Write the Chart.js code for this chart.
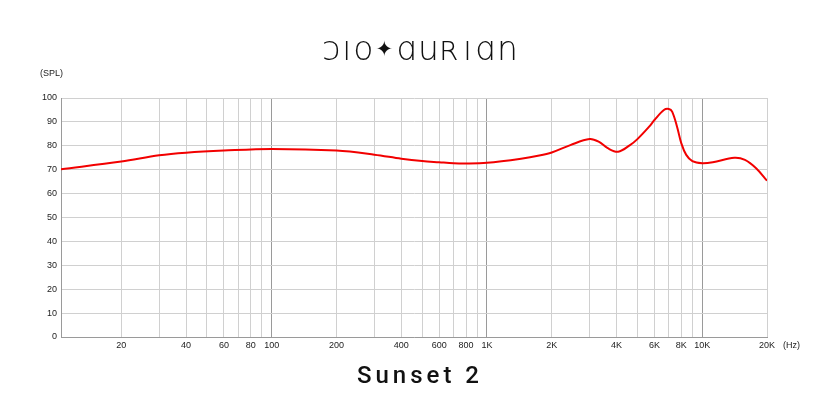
<!DOCTYPE html>
<html>
<head>
<meta charset="utf-8">
<script src="https://cdn.jsdelivr.net/npm/chart.js@4.4.1/dist/chart.umd.min.js"></script>
<style>
  body { margin: 0; background: #fff; }
  #wrap { position: relative; width: 840px; height: 420px; }
  #logo { position: absolute; left: 0; width: 842px; top: 29px; text-align: center;
          font-family: "DejaVu Sans"; font-weight: 200; font-size: 33px; letter-spacing: 2px; color: #111; }
  #logo span { font-size: 21px; font-weight: 400; vertical-align: 4px; }
  #name { position: absolute; left: 0; width: 840px; top: 361px; text-align: center;
          font-family: Roboto, "Liberation Sans", sans-serif; font-weight: 500; font-size: 24px; letter-spacing: 4px; color: #111; }
  .unit { position: absolute; font-family: "Liberation Sans", Arial, sans-serif; font-size: 9px; color: #222; }
</style>
</head>
<body>
<div id="wrap">
  <canvas id="fr" width="840" height="420"></canvas>
  <div id="logo">ↄıo<span>✦</span>ɑuʀıɑn</div>
  <div id="name">Sunset 2</div>
  <div class="unit" style="left:40px; top:68px;">(SPL)</div>
  <div class="unit" style="left:783px; top:340px;">(Hz)</div>
</div>
<script>
  // Frequency response
  const freqs = [10.5, 20, 30, 40, 60, 100, 200, 300, 400, 500, 600, 700, 800, 1000,
                 1440, 1750, 2000, 2440, 3000, 3320, 3640, 4070, 4620, 5000, 5670, 6000,
                 6640, 7000, 7250, 7640, 8000, 8430, 9000, 10000, 11200, 14100, 15800, 17800, 20000];
  const spl = [70.2, 73.4, 76.0, 77.1, 78.0, 78.7, 78.0, 76.3, 74.6, 73.6, 73.1, 72.7, 72.6, 72.9,
               74.6, 75.9, 77.2, 80.3, 82.8, 81.6, 79.0, 77.5, 80.3, 82.8, 88.0, 90.8,
               95.0, 95.4, 94.3, 88.0, 81.0, 76.2, 73.6, 72.7, 73.1, 75.0, 74.1, 70.6, 65.4];

  const gridFreqs = [20, 30, 40, 50, 60, 70, 80, 90, 100, 200, 300, 400, 500, 600, 700, 800, 900,
                     1000, 2000, 3000, 4000, 5000, 6000, 7000, 8000, 9000, 10000, 20000];
  const freqLabels = [20, 40, 60, 80, 100, 200, 400, 600, 800, 1000, 2000, 4000, 6000, 8000, 10000, 20000];
  const darkLines = [100, 1000, 10000];

  const fmt = v => v >= 1000 ? (v / 1000) + 'K' : String(v);

  new Chart(document.getElementById('fr'), {
    type: 'line',
    data: {
      datasets: [{
        data: freqs.map((f, i) => ({ x: f, y: spl[i] })),
        borderColor: '#f20000',
        borderWidth: 2,
        pointRadius: 0,
        tension: 0.35,
        fill: false
      }]
    },
    options: {
      responsive: false,
      animation: false,
      layout: { padding: { top: 98, right: 73, left: 0, bottom: 0 } },
      plugins: { legend: { display: false }, tooltip: { enabled: false } },
      scales: {
        x: {
          type: 'logarithmic',
          min: 10.5,
          max: 20000,
          afterBuildTicks: s => { s.ticks = gridFreqs.map(v => ({ value: v })); },
          afterFit: s => { s.height = 83; },
          ticks: {
            autoSkip: false,
            maxRotation: 0,
            padding: 3,
            color: '#222',
            font: { family: 'Liberation Sans', size: 9 },
            callback: v => freqLabels.includes(v) ? fmt(v) : ''
          },
          grid: {
            drawTicks: false,
            color: c => darkLines.includes(c.tick && c.tick.value) ? '#9a9a9a' : '#d0d0d0',
            lineWidth: 1
          },
          border: { color: '#9a9a9a' }
        },
        y: {
          min: 0,
          max: 100,
          afterFit: s => { s.width = 61; },
          ticks: {
            stepSize: 5,
            padding: 4,
            color: '#222',
            font: { family: 'Liberation Sans', size: 9 },
            callback: v => v % 10 === 0 ? v : ''
          },
          grid: { drawTicks: false, color: '#d0d0d0', lineWidth: 1 },
          border: { color: '#9a9a9a' }
        }
      }
    }
  });
</script>
</body>
</html>
